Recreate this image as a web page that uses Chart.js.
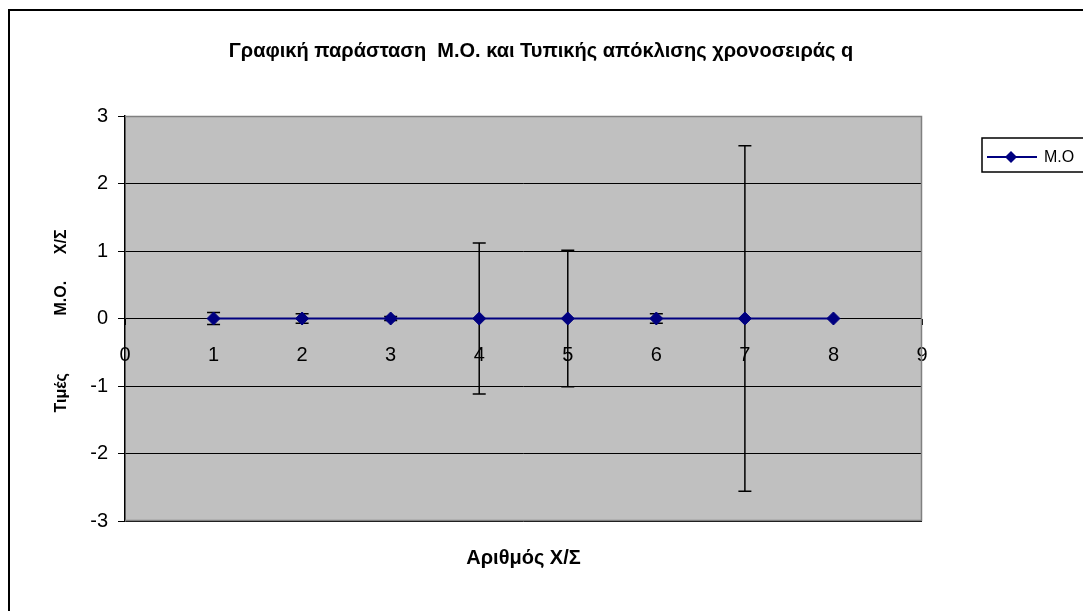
<!DOCTYPE html>
<html>
<head>
<meta charset="utf-8">
<script src="https://cdn.jsdelivr.net/npm/chart.js@4"></script>
<style>
  html, body { margin: 0; padding: 0; background: #fff; }
  #wrap { width: 1083px; height: 611px; position: relative; }
</style>
</head>
<body>
<div id="wrap"><canvas id="chart"></canvas></div>
<script>
// data
const xValues = [1, 2, 3, 4, 5, 6, 7, 8];
const meanValues = [0, 0, 0, 0, 0, 0, 0, 0];
const stdDevs = [0.09, 0.07, 0.03, 1.12, 1.01, 0.07, 2.56, 0];
const xTicks = [0, 1, 2, 3, 4, 5, 6, 7, 8, 9];
const yTicks = [-3, -2, -1, 0, 1, 2, 3];

const seriesLabel = 'M.O';
const chartTitle = 'Γραφική παράσταση  M.O. και Τυπικής απόκλισης χρονοσειράς q';
const yTitle = 'Τιμές             M.O.      X/Σ';
const xTitle = 'Αριθμός X/Σ';

const FONT = "'Liberation Sans', Arial, sans-serif";
const NAVY = '#000080';

// grey plot background, frame and outer chart border
const framePlugin = {
    id: 'frame',
    beforeDraw: function(chart) {
        const ctx = chart.ctx;
        const a = chart.chartArea;
        ctx.save();
        ctx.fillStyle = '#fff';
        ctx.fillRect(0, 0, chart.width, chart.height);
        ctx.fillStyle = '#c0c0c0';
        ctx.fillRect(a.left, a.top, a.right - a.left, a.bottom - a.top);
        ctx.strokeStyle = '#000';
        ctx.lineWidth = 2;
        ctx.strokeRect(9, 10, chart.width + 20, chart.height + 20);
        ctx.restore();
    },
    afterDraw: function(chart) {
        const ctx = chart.ctx;
        const a = chart.chartArea;
        ctx.save();
        ctx.strokeStyle = '#808080';
        ctx.lineWidth = 1.5;
        ctx.beginPath();
        ctx.moveTo(a.left, a.top + 0.5);
        ctx.lineTo(a.right - 0.5, a.top + 0.5);
        ctx.lineTo(a.right - 0.5, a.bottom - 0.5);
        ctx.lineTo(a.left, a.bottom - 0.5);
        ctx.stroke();

        // titles
        ctx.fillStyle = '#000';
        ctx.textAlign = 'center';
        ctx.textBaseline = 'middle';
        ctx.font = 'bold 20px ' + FONT;
        ctx.fillText(chartTitle, 541, 51);
        ctx.font = 'bold 20px ' + FONT;
        ctx.fillText(xTitle, (a.left + a.right) / 2, 558);
        ctx.font = 'bold 16px ' + FONT;
        ctx.translate(62, 321);
        ctx.rotate(-Math.PI / 2);
        ctx.fillText(yTitle, 0, 0);
        ctx.restore();

        // legend
        const ds = chart.data.datasets[0];
        ctx.save();
        ctx.fillStyle = '#fff';
        ctx.fillRect(982, 138, 120, 34);
        ctx.strokeStyle = '#000';
        ctx.lineWidth = 1.5;
        ctx.strokeRect(982, 138, 120, 34);
        ctx.strokeStyle = ds.borderColor;
        ctx.lineWidth = 2;
        ctx.beginPath();
        ctx.moveTo(987, 157);
        ctx.lineTo(1037, 157);
        ctx.stroke();
        ctx.fillStyle = ds.backgroundColor;
        ctx.beginPath();
        ctx.moveTo(1011, 151);
        ctx.lineTo(1017, 157);
        ctx.lineTo(1011, 163);
        ctx.lineTo(1005, 157);
        ctx.closePath();
        ctx.fill();
        ctx.fillStyle = '#000';
        ctx.font = '16px ' + FONT;
        ctx.textBaseline = 'middle';
        ctx.fillText(ds.label, 1044, 158);
        ctx.restore();
    }
};

// vertical error bars, drawn under the markers
const errorBarPlugin = {
    id: 'errorBars',
    beforeDatasetsDraw: function(chart) {
        const ctx = chart.ctx;
        const xs = chart.scales.x;
        const ys = chart.scales.y;
        ctx.save();
        ctx.strokeStyle = '#000';
        ctx.lineWidth = 1.5;
        for (let i = 0; i < xValues.length; i++) {
            if (!stdDevs[i]) continue;
            const px = xs.getPixelForValue(xValues[i]);
            const top = ys.getPixelForValue(meanValues[i] + stdDevs[i]);
            const bot = ys.getPixelForValue(meanValues[i] - stdDevs[i]);
            ctx.beginPath();
            ctx.moveTo(px, top);
            ctx.lineTo(px, bot);
            ctx.moveTo(px - 6.5, top);
            ctx.lineTo(px + 6.5, top);
            ctx.moveTo(px - 6.5, bot);
            ctx.lineTo(px + 6.5, bot);
            ctx.stroke();
        }
        ctx.restore();
    }
};

new Chart(document.getElementById('chart'), {
    type: 'line',
    data: {
        datasets: [{
            label: seriesLabel,
            data: xValues.map((x, i) => ({ x: x, y: meanValues[i] })),
            borderColor: NAVY,
            backgroundColor: NAVY,
            borderWidth: 2,
            pointStyle: 'rectRot',
            pointRadius: 6.5,
            pointBorderWidth: 1,
            tension: 0
        }]
    },
    options: {
        responsive: true,
        maintainAspectRatio: false,
        animation: false,
        layout: { padding: { left: 0, top: 116, right: 161, bottom: 90 } },
        plugins: {
            legend: { display: false },
            title: { display: false },
            tooltip: { enabled: false }
        },
        scales: {
            x: {
                type: 'linear',
                position: { y: 0 },
                min: xTicks[0],
                max: xTicks[xTicks.length - 1],
                afterBuildTicks: function(scale) {
                    scale.ticks = xTicks.map(v => ({ value: v }));
                },
                grid: { drawOnChartArea: false, color: '#000', tickLength: 6 },
                border: { display: false },
                ticks: {
                    color: '#000',
                    font: { family: FONT, size: 20 },
                    padding: 19,
                    maxRotation: 0,
                    autoSkip: false
                }
            },
            y: {
                min: yTicks[0],
                max: yTicks[yTicks.length - 1],
                afterBuildTicks: function(scale) {
                    scale.ticks = yTicks.map(v => ({ value: v }));
                },
                afterFit: function(scale) { scale.width = 125; },
                grid: { color: '#000', lineWidth: 1, tickLength: 7 },
                border: { color: '#000', width: 1.5 },
                ticks: {
                    color: '#000',
                    font: { family: FONT, size: 20 },
                    padding: 10
                }
            }
        }
    },
    plugins: [framePlugin, errorBarPlugin]
});
</script>
</body>
</html>
